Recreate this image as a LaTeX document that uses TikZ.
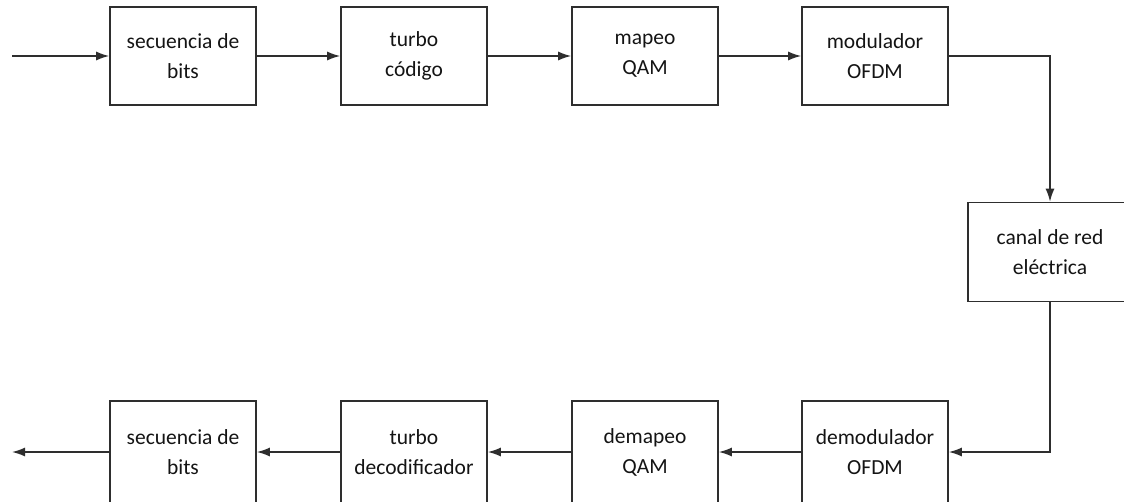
\documentclass[tikz,border=0pt]{standalone}
\usepackage{fontspec}
\setmainfont{Carlito}
\usetikzlibrary{arrows.meta}
\definecolor{linec}{HTML}{2E2E2E}
\definecolor{textc}{HTML}{141414}
\begin{document}
\begin{tikzpicture}[x=1pt,y=-1pt,
  blk/.style={draw=linec, line width=1.6pt, minimum width=146pt, minimum height=98pt,
    align=center, text=textc, font=\fontsize{21.5}{30}\selectfont, inner sep=0pt},
  blkb/.style={blk, minimum height=102pt},
  arr/.style={draw=linec, line width=1.5pt, -{Latex[length=13pt,width=9pt]}}]
\useasboundingbox (0,0) rectangle (1124,501);
\clip (0,0) rectangle (1124,501);
\fill[white] (0,0) rectangle (1124,501);
% top row
\node[blk] (sb) at (183,56) {secuencia de\\bits};
\node[blk] (tc) at (414,56) {turbo\\código};
\node[blk] (mq) at (645,56) {mapeo\\QAM};
\node[blk] (mo) at (875,56) {modulador\\OFDM};
% channel
\node[blk, minimum width=164pt, minimum height=99pt] (ch) at (1050,252) {canal de red\\eléctrica};
% bottom row
\node[blkb] (sb2) at (183,452) {secuencia de\\bits};
\node[blkb] (td) at (414,452) {turbo\\decodificador};
\node[blkb] (dq) at (645,452) {demapeo\\QAM};
\node[blkb] (dm) at (875,452) {demodulador\\OFDM};
\coordinate (in) at (12,56);
\coordinate (out) at (12,452);
% connectors
\draw[arr] (in) -- (sb);
\draw[arr] (sb) -- (tc);
\draw[arr] (tc) -- (mq);
\draw[arr] (mq) -- (mo);
\draw[arr] (mo.east) -| (ch.north);
\draw[arr] (ch.south) |- (dm.east);
\draw[arr] (dm) -- (dq);
\draw[arr] (dq) -- (td);
\draw[arr] (td) -- (sb2);
\draw[arr] (sb2) -- (out);
\end{tikzpicture}
\end{document}
